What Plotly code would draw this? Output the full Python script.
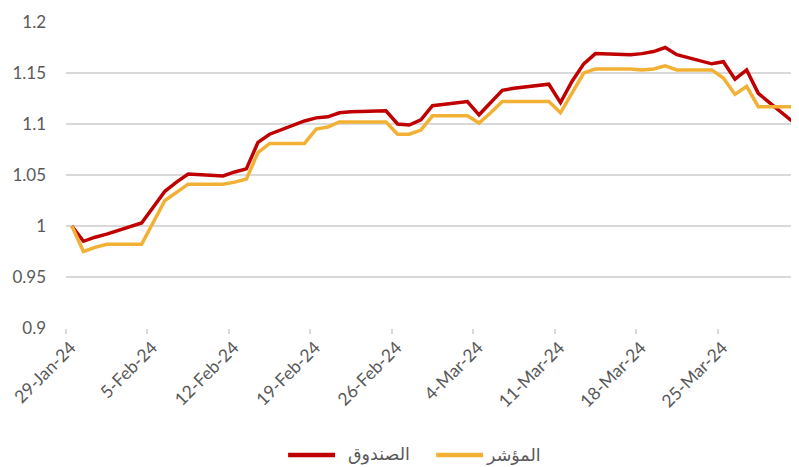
import plotly.graph_objects as go

# trading dates (data points placed at mid-day like Excel's date axis)
dates = ["2024-01-29", "2024-01-30", "2024-01-31", "2024-02-01",
         "2024-02-04", "2024-02-05", "2024-02-06", "2024-02-07", "2024-02-08",
         "2024-02-11", "2024-02-12", "2024-02-13", "2024-02-14", "2024-02-15",
         "2024-02-18", "2024-02-19", "2024-02-20", "2024-02-21", "2024-02-22",
         "2024-02-25", "2024-02-26", "2024-02-27", "2024-02-28", "2024-02-29",
         "2024-03-03", "2024-03-04", "2024-03-05", "2024-03-06", "2024-03-07",
         "2024-03-10", "2024-03-11", "2024-03-12", "2024-03-13", "2024-03-14",
         "2024-03-17", "2024-03-18", "2024-03-19", "2024-03-20", "2024-03-21",
         "2024-03-24", "2024-03-25", "2024-03-26", "2024-03-27", "2024-03-28",
         "2024-03-31"]

fund = [1.000, 0.985, 0.989, 0.992,
        1.003, 1.018, 1.034, 1.043, 1.051,
        1.049, 1.053, 1.056, 1.082, 1.090,
        1.103, 1.106, 1.107, 1.111, 1.112,
        1.113, 1.100, 1.099, 1.104, 1.118,
        1.122, 1.109, 1.121, 1.133, 1.135,
        1.139, 1.121, 1.142, 1.159, 1.169,
        1.168, 1.169, 1.171, 1.175, 1.168,
        1.159, 1.161, 1.144, 1.153, 1.130,
        1.102]

index = [1.000, 0.975, 0.979, 0.982,
         0.982, 1.004, 1.025, 1.033, 1.041,
         1.041, 1.043, 1.046, 1.072, 1.081,
         1.081, 1.095, 1.097, 1.102, 1.102,
         1.102, 1.090, 1.090, 1.094, 1.108,
         1.108, 1.101, 1.111, 1.122, 1.122,
         1.122, 1.111, 1.131, 1.150, 1.154,
         1.154, 1.153, 1.154, 1.157, 1.153,
         1.153, 1.145, 1.129, 1.137, 1.117,
         1.117]

tick_dates = ["2024-01-29", "2024-02-05", "2024-02-12", "2024-02-19", "2024-02-26",
              "2024-03-04", "2024-03-11", "2024-03-18", "2024-03-25"]
tick_labels = ["29-Jan-24", "5-Feb-24", "12-Feb-24", "19-Feb-24", "26-Feb-24",
               "4-Mar-24", "11-Mar-24", "18-Mar-24", "25-Mar-24"]

y_ticks = [0.9, 0.95, 1.0, 1.05, 1.1, 1.15, 1.2]
y_labels = ["0.9", "0.95", "1", "1.05", "1.1", "1.15", "1.2"]

name_fund = "الصندوق"
name_index = "المؤشر"

color_fund = "#C00000"
color_index = "#F2B134"

x_mid = [d + " 12:00" for d in dates]
x_range = ["2024-01-29", "2024-04-01"]
# rotated labels sit a little right of their tick marks (Excel style)
label_pos = [d + " 10:00" for d in tick_dates]

fig = go.Figure()
fig.add_trace(go.Scatter(x=x_mid, y=fund, mode="lines", name=name_fund,
                         line=dict(color=color_fund, width=3.5), xaxis="x"))
fig.add_trace(go.Scatter(x=x_mid, y=index, mode="lines", name=name_index,
                         line=dict(color=color_index, width=3.5), xaxis="x2"))

font_family = "Lato, Liberation Sans, DejaVu Sans, sans-serif"
arabic_font = "DejaVu Sans, sans-serif"

# legend drawn below the plot (Excel-style long swatches)
leg_y = -0.415
legend_items = [(name_fund, color_fund, 0.303, 0.367, 0.427),
                (name_index, color_index, 0.505, 0.569, 0.610)]
for label, col, x0, x1, xt in legend_items:
    fig.add_shape(type="line", xref="paper", yref="paper", x0=x0, x1=x1, y0=leg_y, y1=leg_y,
                  line=dict(color=col, width=4.5))
    fig.add_annotation(xref="paper", yref="paper", x=xt, y=leg_y, text=label, showarrow=False,
                       xanchor="center", yanchor="middle",
                       font=dict(family=arabic_font, size=17.5, color="#595959"))

fig.update_layout(
    width=799, height=467,
    margin=dict(l=58, r=8, t=14, b=147),
    plot_bgcolor="white", paper_bgcolor="white",
    font=dict(family=font_family, size=15, color="#595959"),
    showlegend=False,
    xaxis=dict(
        type="date", range=x_range,
        tickvals=tick_dates, showticklabels=False,
        ticks="outside", ticklen=5, tickcolor="#d9d9d9", tickwidth=1.5,
        showgrid=False, showline=False, zeroline=False,
        automargin=False,
    ),
    xaxis2=dict(
        type="date", range=x_range, overlaying="x", anchor="y", side="bottom",
        tickvals=label_pos, ticktext=tick_labels,
        tickangle=-45, ticks="",
        showgrid=False, showline=False, zeroline=False,
        tickfont=dict(size=17.5, color="#595959"),
        ticklabelstandoff=5,
        ticklabeloverflow="allow",
        automargin=False,
    ),
    yaxis=dict(
        range=[0.9, 1.2],
        tickvals=y_ticks, ticktext=y_labels,
        showgrid=True, gridcolor="#d9d9d9", gridwidth=1.5,
        zeroline=False, showline=False,
        tickfont=dict(size=17, color="#595959"),
        ticklabelstandoff=19,
        automargin=False,
    ),
)

fig.write_html("out.html")
